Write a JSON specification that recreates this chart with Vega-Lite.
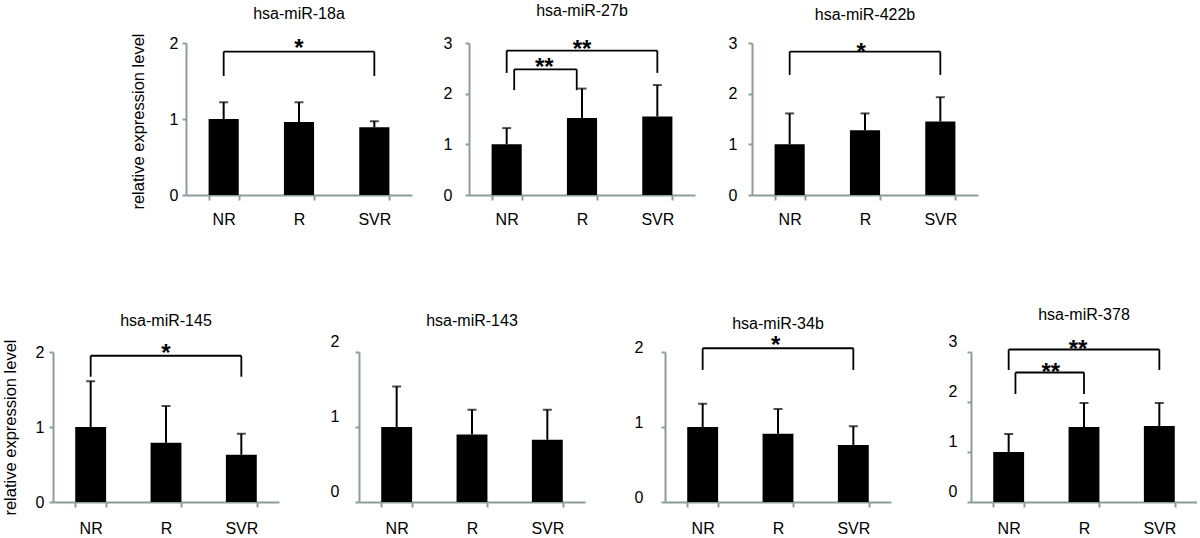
{
  "$schema": "https://vega.github.io/schema/vega-lite/v6.json",
  "background": "white",
  "padding": {"left": 2, "top": 3, "right": 0, "bottom": 0},
  "config": {
    "view": {"stroke": null},
    "font": "Liberation Sans",
    "title": {"font": "Liberation Sans", "fontSize": 16, "fontWeight": "normal", "color": "#000", "anchor": "middle", "offset": 10},
    "axis": {"domainColor": "#8c9c9c", "domainWidth": 2, "tickColor": "#8c9c9c", "tickWidth": 2, "tickSize": 4, "grid": false, "labelFont": "Liberation Sans", "labelFontSize": 16, "labelColor": "#000", "titleFont": "Liberation Sans", "titleFontSize": 16.5, "titleFontWeight": "normal", "titleColor": "#000"},
    "axisX": {"tickSize": 5, "labelAngle": 0},
    "axisY": {"format": "d"}
  },
  "datasets": {
    "bars": [
      {"gene": "hsa-miR-18a", "group": "NR", "mean": 1.0, "upper": 1.22},
      {"gene": "hsa-miR-18a", "group": "R", "mean": 0.96, "upper": 1.22},
      {"gene": "hsa-miR-18a", "group": "SVR", "mean": 0.89, "upper": 0.97},
      {"gene": "hsa-miR-27b", "group": "NR", "mean": 1.0, "upper": 1.32},
      {"gene": "hsa-miR-27b", "group": "R", "mean": 1.52, "upper": 2.1},
      {"gene": "hsa-miR-27b", "group": "SVR", "mean": 1.55, "upper": 2.17},
      {"gene": "hsa-miR-422b", "group": "NR", "mean": 1.0, "upper": 1.61},
      {"gene": "hsa-miR-422b", "group": "R", "mean": 1.28, "upper": 1.61},
      {"gene": "hsa-miR-422b", "group": "SVR", "mean": 1.45, "upper": 1.93},
      {"gene": "hsa-miR-145", "group": "NR", "mean": 1.0, "upper": 1.61},
      {"gene": "hsa-miR-145", "group": "R", "mean": 0.79, "upper": 1.28},
      {"gene": "hsa-miR-145", "group": "SVR", "mean": 0.63, "upper": 0.91},
      {"gene": "hsa-miR-143", "group": "NR", "mean": 1.0, "upper": 1.54},
      {"gene": "hsa-miR-143", "group": "R", "mean": 0.9, "upper": 1.23},
      {"gene": "hsa-miR-143", "group": "SVR", "mean": 0.83, "upper": 1.23},
      {"gene": "hsa-miR-34b", "group": "NR", "mean": 1.0, "upper": 1.31},
      {"gene": "hsa-miR-34b", "group": "R", "mean": 0.91, "upper": 1.24},
      {"gene": "hsa-miR-34b", "group": "SVR", "mean": 0.76, "upper": 1.01},
      {"gene": "hsa-miR-378", "group": "NR", "mean": 1.0, "upper": 1.36},
      {"gene": "hsa-miR-378", "group": "R", "mean": 1.5, "upper": 1.98},
      {"gene": "hsa-miR-378", "group": "SVR", "mean": 1.52, "upper": 1.98}
    ],
    "brackets": [
      {"gene": "hsa-miR-18a", "x1": 0.5, "x2": 2.5, "top": 1.886, "bottom": 1.566, "xs": 1.5, "ys": 2.0, "label": "*"},
      {"gene": "hsa-miR-27b", "x1": 0.5, "x2": 2.5, "top": 2.85, "bottom": 2.41, "xs": 1.5, "ys": 2.98, "label": "**"},
      {"gene": "hsa-miR-27b", "x1": 0.6, "x2": 1.43, "top": 2.48, "bottom": 2.07, "xs": 1.0, "ys": 2.62, "label": "**"},
      {"gene": "hsa-miR-422b", "x1": 0.5, "x2": 2.5, "top": 2.83, "bottom": 2.37, "xs": 1.45, "ys": 2.93, "label": "*"},
      {"gene": "hsa-miR-145", "x1": 0.5, "x2": 2.5, "top": 1.95, "bottom": 1.67, "xs": 1.5, "ys": 2.05, "label": "*"},
      {"gene": "hsa-miR-34b", "x1": 0.5, "x2": 2.5, "top": 2.05, "bottom": 1.76, "xs": 1.47, "ys": 2.16, "label": "*"},
      {"gene": "hsa-miR-378", "x1": 0.5, "x2": 2.5, "top": 3.05, "bottom": 2.64, "xs": 1.42, "ys": 3.17, "label": "**"},
      {"gene": "hsa-miR-378", "x1": 0.59, "x2": 1.5, "top": 2.59, "bottom": 2.16, "xs": 1.06, "ys": 2.71, "label": "**"}
    ]
  },
  "bounds": "flush",
  "spacing": 309,
  "vconcat": [
    {
      "bounds": "flush",
      "spacing": 132,
      "hconcat": [
        {"width": 1, "height": 152, "data": {"values": []}, "mark": {"type": "point", "opacity": 0}},
        {
          "bounds": "flush",
          "spacing": 57,
          "hconcat": [
            {
              "width": 226, "height": 152,
              "title": {"text": "hsa-miR-18a", "offset": 11},
              "resolve": {"scale": {"x": "independent"}},
              "layer": [
                {
                  "data": {"name": "bars"},
                  "transform": [{"filter": "datum.gene === 'hsa-miR-18a'"}],
                  "encoding": {"x": {"field": "group", "type": "nominal", "sort": ["NR", "R", "SVR"], "scale": {"paddingInner": 0.6, "paddingOuter": 0.3}, "axis": {"title": null, "tickBand": "extent", "labelPadding": 11}}},
                  "layer": [
                    {"mark": {"type": "bar", "color": "#000"}, "encoding": {"y": {"field": "mean", "type": "quantitative", "title": "relative expression level", "scale": {"domain": [0, 2], "nice": false}, "axis": {"values": [0, 1, 2], "labelPadding": 4, "titlePadding": 23, "titleY": 78}}}},
                    {"mark": {"type": "rule", "color": "#000", "strokeWidth": 2}, "encoding": {"y": {"field": "mean", "type": "quantitative", "title": "relative expression level", "scale": {"domain": [0, 2], "nice": false}}, "y2": {"field": "upper"}}},
                    {"mark": {"type": "tick", "color": "#000", "thickness": 2, "size": 9}, "encoding": {"y": {"field": "upper", "type": "quantitative", "title": "relative expression level", "scale": {"domain": [0, 2], "nice": false}}}}
                  ]
                },
                {
                  "data": {"name": "brackets"},
                  "transform": [{"filter": "datum.gene === 'hsa-miR-18a'"}],
                  "layer": [
                    {"mark": {"type": "rule", "color": "#000", "strokeWidth": 1.8}, "encoding": {"x": {"field": "x1", "type": "quantitative", "scale": {"domain": [0, 3], "nice": false, "zero": false}, "axis": null}, "x2": {"field": "x2"}, "y": {"field": "top", "type": "quantitative", "title": "relative expression level", "scale": {"domain": [0, 2], "nice": false}}}},
                    {"mark": {"type": "rule", "color": "#000", "strokeWidth": 1.8}, "encoding": {"x": {"field": "x1", "type": "quantitative", "scale": {"domain": [0, 3], "nice": false, "zero": false}, "axis": null}, "y": {"field": "top", "type": "quantitative", "title": "relative expression level", "scale": {"domain": [0, 2], "nice": false}}, "y2": {"field": "bottom"}}},
                    {"mark": {"type": "rule", "color": "#000", "strokeWidth": 1.8}, "encoding": {"x": {"field": "x2", "type": "quantitative", "scale": {"domain": [0, 3], "nice": false, "zero": false}, "axis": null}, "y": {"field": "top", "type": "quantitative", "title": "relative expression level", "scale": {"domain": [0, 2], "nice": false}}, "y2": {"field": "bottom"}}},
                    {"mark": {"type": "text", "fontSize": 24, "fontWeight": "bold", "baseline": "middle", "dy": 6, "color": "#000"}, "encoding": {"x": {"field": "xs", "type": "quantitative", "scale": {"domain": [0, 3], "nice": false, "zero": false}, "axis": null}, "y": {"field": "ys", "type": "quantitative", "title": "relative expression level", "scale": {"domain": [0, 2], "nice": false}}, "text": {"field": "label"}}}
                  ]
                }
              ]
            },
            {
              "width": 226, "height": 152,
              "title": {"text": "hsa-miR-27b", "offset": 16},
              "resolve": {"scale": {"x": "independent"}},
              "layer": [
                {
                  "data": {"name": "bars"},
                  "transform": [{"filter": "datum.gene === 'hsa-miR-27b'"}],
                  "encoding": {"x": {"field": "group", "type": "nominal", "sort": ["NR", "R", "SVR"], "scale": {"paddingInner": 0.6, "paddingOuter": 0.3}, "axis": {"title": null, "tickBand": "extent", "labelPadding": 11}}},
                  "layer": [
                    {"mark": {"type": "bar", "color": "#000"}, "encoding": {"y": {"field": "mean", "type": "quantitative", "title": null, "scale": {"domain": [0, 3], "nice": false}, "axis": {"values": [0, 1, 2, 3], "labelPadding": 13}}}},
                    {"mark": {"type": "rule", "color": "#000", "strokeWidth": 2}, "encoding": {"y": {"field": "mean", "type": "quantitative", "title": null, "scale": {"domain": [0, 3], "nice": false}}, "y2": {"field": "upper"}}},
                    {"mark": {"type": "tick", "color": "#000", "thickness": 2, "size": 9}, "encoding": {"y": {"field": "upper", "type": "quantitative", "title": null, "scale": {"domain": [0, 3], "nice": false}}}}
                  ]
                },
                {
                  "data": {"name": "brackets"},
                  "transform": [{"filter": "datum.gene === 'hsa-miR-27b'"}],
                  "layer": [
                    {"mark": {"type": "rule", "color": "#000", "strokeWidth": 1.8}, "encoding": {"x": {"field": "x1", "type": "quantitative", "scale": {"domain": [0, 3], "nice": false, "zero": false}, "axis": null}, "x2": {"field": "x2"}, "y": {"field": "top", "type": "quantitative", "title": null, "scale": {"domain": [0, 3], "nice": false}}}},
                    {"mark": {"type": "rule", "color": "#000", "strokeWidth": 1.8}, "encoding": {"x": {"field": "x1", "type": "quantitative", "scale": {"domain": [0, 3], "nice": false, "zero": false}, "axis": null}, "y": {"field": "top", "type": "quantitative", "title": null, "scale": {"domain": [0, 3], "nice": false}}, "y2": {"field": "bottom"}}},
                    {"mark": {"type": "rule", "color": "#000", "strokeWidth": 1.8}, "encoding": {"x": {"field": "x2", "type": "quantitative", "scale": {"domain": [0, 3], "nice": false, "zero": false}, "axis": null}, "y": {"field": "top", "type": "quantitative", "title": null, "scale": {"domain": [0, 3], "nice": false}}, "y2": {"field": "bottom"}}},
                    {"mark": {"type": "text", "fontSize": 24, "fontWeight": "bold", "baseline": "middle", "dy": 6, "color": "#000"}, "encoding": {"x": {"field": "xs", "type": "quantitative", "scale": {"domain": [0, 3], "nice": false, "zero": false}, "axis": null}, "y": {"field": "ys", "type": "quantitative", "title": null, "scale": {"domain": [0, 3], "nice": false}}, "text": {"field": "label"}}}
                  ]
                }
              ]
            },
            {
              "width": 226, "height": 152,
              "title": {"text": "hsa-miR-422b", "offset": 12},
              "resolve": {"scale": {"x": "independent"}},
              "layer": [
                {
                  "data": {"name": "bars"},
                  "transform": [{"filter": "datum.gene === 'hsa-miR-422b'"}],
                  "encoding": {"x": {"field": "group", "type": "nominal", "sort": ["NR", "R", "SVR"], "scale": {"paddingInner": 0.6, "paddingOuter": 0.3}, "axis": {"title": null, "tickBand": "extent", "labelPadding": 11}}},
                  "layer": [
                    {"mark": {"type": "bar", "color": "#000"}, "encoding": {"y": {"field": "mean", "type": "quantitative", "title": null, "scale": {"domain": [0, 3], "nice": false}, "axis": {"values": [0, 1, 2, 3], "labelPadding": 11}}}},
                    {"mark": {"type": "rule", "color": "#000", "strokeWidth": 2}, "encoding": {"y": {"field": "mean", "type": "quantitative", "title": null, "scale": {"domain": [0, 3], "nice": false}}, "y2": {"field": "upper"}}},
                    {"mark": {"type": "tick", "color": "#000", "thickness": 2, "size": 9}, "encoding": {"y": {"field": "upper", "type": "quantitative", "title": null, "scale": {"domain": [0, 3], "nice": false}}}}
                  ]
                },
                {
                  "data": {"name": "brackets"},
                  "transform": [{"filter": "datum.gene === 'hsa-miR-422b'"}],
                  "layer": [
                    {"mark": {"type": "rule", "color": "#000", "strokeWidth": 1.8}, "encoding": {"x": {"field": "x1", "type": "quantitative", "scale": {"domain": [0, 3], "nice": false, "zero": false}, "axis": null}, "x2": {"field": "x2"}, "y": {"field": "top", "type": "quantitative", "title": null, "scale": {"domain": [0, 3], "nice": false}}}},
                    {"mark": {"type": "rule", "color": "#000", "strokeWidth": 1.8}, "encoding": {"x": {"field": "x1", "type": "quantitative", "scale": {"domain": [0, 3], "nice": false, "zero": false}, "axis": null}, "y": {"field": "top", "type": "quantitative", "title": null, "scale": {"domain": [0, 3], "nice": false}}, "y2": {"field": "bottom"}}},
                    {"mark": {"type": "rule", "color": "#000", "strokeWidth": 1.8}, "encoding": {"x": {"field": "x2", "type": "quantitative", "scale": {"domain": [0, 3], "nice": false, "zero": false}, "axis": null}, "y": {"field": "top", "type": "quantitative", "title": null, "scale": {"domain": [0, 3], "nice": false}}, "y2": {"field": "bottom"}}},
                    {"mark": {"type": "text", "fontSize": 24, "fontWeight": "bold", "baseline": "middle", "dy": 6, "color": "#000"}, "encoding": {"x": {"field": "xs", "type": "quantitative", "scale": {"domain": [0, 3], "nice": false, "zero": false}, "axis": null}, "y": {"field": "ys", "type": "quantitative", "title": null, "scale": {"domain": [0, 3], "nice": false}}, "text": {"field": "label"}}}
                  ]
                }
              ]
            }
          ]
        }
      ]
    },
    {
      "bounds": "flush",
      "spacing": 80,
      "hconcat": [
        {
          "width": 226, "height": 150,
          "title": {"text": "hsa-miR-145", "offset": 10},
          "resolve": {"scale": {"x": "independent"}},
          "layer": [
            {
              "data": {"name": "bars"},
              "transform": [{"filter": "datum.gene === 'hsa-miR-145'"}],
              "encoding": {"x": {"field": "group", "type": "nominal", "sort": ["NR", "R", "SVR"], "scale": {"paddingInner": 0.59, "paddingOuter": 0.295}, "axis": {"title": null, "tickBand": "extent", "labelPadding": 13}}},
              "layer": [
                {"mark": {"type": "bar", "color": "#000"}, "encoding": {"y": {"field": "mean", "type": "quantitative", "title": "relative expression level", "scale": {"domain": [0, 2], "nice": false}, "axis": {"values": [0, 1, 2], "labelPadding": 5, "titlePadding": 17}}}},
                {"mark": {"type": "rule", "color": "#000", "strokeWidth": 2}, "encoding": {"y": {"field": "mean", "type": "quantitative", "title": "relative expression level", "scale": {"domain": [0, 2], "nice": false}}, "y2": {"field": "upper"}}},
                {"mark": {"type": "tick", "color": "#000", "thickness": 2, "size": 9}, "encoding": {"y": {"field": "upper", "type": "quantitative", "title": "relative expression level", "scale": {"domain": [0, 2], "nice": false}}}}
              ]
            },
            {
              "data": {"name": "brackets"},
              "transform": [{"filter": "datum.gene === 'hsa-miR-145'"}],
              "layer": [
                {"mark": {"type": "rule", "color": "#000", "strokeWidth": 1.8}, "encoding": {"x": {"field": "x1", "type": "quantitative", "scale": {"domain": [0, 3], "nice": false, "zero": false}, "axis": null}, "x2": {"field": "x2"}, "y": {"field": "top", "type": "quantitative", "title": "relative expression level", "scale": {"domain": [0, 2], "nice": false}}}},
                {"mark": {"type": "rule", "color": "#000", "strokeWidth": 1.8}, "encoding": {"x": {"field": "x1", "type": "quantitative", "scale": {"domain": [0, 3], "nice": false, "zero": false}, "axis": null}, "y": {"field": "top", "type": "quantitative", "title": "relative expression level", "scale": {"domain": [0, 2], "nice": false}}, "y2": {"field": "bottom"}}},
                {"mark": {"type": "rule", "color": "#000", "strokeWidth": 1.8}, "encoding": {"x": {"field": "x2", "type": "quantitative", "scale": {"domain": [0, 3], "nice": false, "zero": false}, "axis": null}, "y": {"field": "top", "type": "quantitative", "title": "relative expression level", "scale": {"domain": [0, 2], "nice": false}}, "y2": {"field": "bottom"}}},
                {"mark": {"type": "text", "fontSize": 24, "fontWeight": "bold", "baseline": "middle", "dy": 6, "color": "#000"}, "encoding": {"x": {"field": "xs", "type": "quantitative", "scale": {"domain": [0, 3], "nice": false, "zero": false}, "axis": null}, "y": {"field": "ys", "type": "quantitative", "title": "relative expression level", "scale": {"domain": [0, 2], "nice": false}}, "text": {"field": "label"}}}
              ]
            }
          ]
        },
        {
          "width": 226, "height": 150,
          "title": {"text": "hsa-miR-143", "offset": 4},
          "data": {"name": "bars"},
          "transform": [{"filter": "datum.gene === 'hsa-miR-143'"}],
          "encoding": {"x": {"field": "group", "type": "nominal", "sort": ["NR", "R", "SVR"], "scale": {"paddingInner": 0.59, "paddingOuter": 0.295}, "axis": {"title": null, "tickBand": "extent", "labelPadding": 13}}},
          "layer": [
            {"mark": {"type": "bar", "color": "#000"}, "encoding": {"y": {"field": "mean", "type": "quantitative", "title": null, "scale": {"domain": [0, 2], "nice": false}, "axis": {"values": [0, 1, 2], "labelPadding": 16, "labelOffset": -11}}}},
            {"mark": {"type": "rule", "color": "#000", "strokeWidth": 2}, "encoding": {"y": {"field": "mean", "type": "quantitative", "title": null, "scale": {"domain": [0, 2], "nice": false}}, "y2": {"field": "upper"}}},
            {"mark": {"type": "tick", "color": "#000", "thickness": 2, "size": 9}, "encoding": {"y": {"field": "upper", "type": "quantitative", "title": null, "scale": {"domain": [0, 2], "nice": false}}}}
          ]
        },
        {
          "width": 226, "height": 150,
          "title": {"text": "hsa-miR-34b", "offset": 2},
          "resolve": {"scale": {"x": "independent"}},
          "layer": [
            {
              "data": {"name": "bars"},
              "transform": [{"filter": "datum.gene === 'hsa-miR-34b'"}],
              "encoding": {"x": {"field": "group", "type": "nominal", "sort": ["NR", "R", "SVR"], "scale": {"paddingInner": 0.59, "paddingOuter": 0.295}, "axis": {"title": null, "tickBand": "extent", "labelPadding": 13}}},
              "layer": [
                {"mark": {"type": "bar", "color": "#000"}, "encoding": {"y": {"field": "mean", "type": "quantitative", "title": null, "scale": {"domain": [0, 2], "nice": false}, "axis": {"values": [0, 1, 2], "labelPadding": 18, "labelOffset": -5}}}},
                {"mark": {"type": "rule", "color": "#000", "strokeWidth": 2}, "encoding": {"y": {"field": "mean", "type": "quantitative", "title": null, "scale": {"domain": [0, 2], "nice": false}}, "y2": {"field": "upper"}}},
                {"mark": {"type": "tick", "color": "#000", "thickness": 2, "size": 9}, "encoding": {"y": {"field": "upper", "type": "quantitative", "title": null, "scale": {"domain": [0, 2], "nice": false}}}}
              ]
            },
            {
              "data": {"name": "brackets"},
              "transform": [{"filter": "datum.gene === 'hsa-miR-34b'"}],
              "layer": [
                {"mark": {"type": "rule", "color": "#000", "strokeWidth": 1.8}, "encoding": {"x": {"field": "x1", "type": "quantitative", "scale": {"domain": [0, 3], "nice": false, "zero": false}, "axis": null}, "x2": {"field": "x2"}, "y": {"field": "top", "type": "quantitative", "title": null, "scale": {"domain": [0, 2], "nice": false}}}},
                {"mark": {"type": "rule", "color": "#000", "strokeWidth": 1.8}, "encoding": {"x": {"field": "x1", "type": "quantitative", "scale": {"domain": [0, 3], "nice": false, "zero": false}, "axis": null}, "y": {"field": "top", "type": "quantitative", "title": null, "scale": {"domain": [0, 2], "nice": false}}, "y2": {"field": "bottom"}}},
                {"mark": {"type": "rule", "color": "#000", "strokeWidth": 1.8}, "encoding": {"x": {"field": "x2", "type": "quantitative", "scale": {"domain": [0, 3], "nice": false, "zero": false}, "axis": null}, "y": {"field": "top", "type": "quantitative", "title": null, "scale": {"domain": [0, 2], "nice": false}}, "y2": {"field": "bottom"}}},
                {"mark": {"type": "text", "fontSize": 24, "fontWeight": "bold", "baseline": "middle", "dy": 6, "color": "#000"}, "encoding": {"x": {"field": "xs", "type": "quantitative", "scale": {"domain": [0, 3], "nice": false, "zero": false}, "axis": null}, "y": {"field": "ys", "type": "quantitative", "title": null, "scale": {"domain": [0, 2], "nice": false}}, "text": {"field": "label"}}}
              ]
            }
          ]
        },
        {
          "width": 226, "height": 150,
          "title": {"text": "hsa-miR-378", "offset": 10},
          "resolve": {"scale": {"x": "independent"}},
          "layer": [
            {
              "data": {"name": "bars"},
              "transform": [{"filter": "datum.gene === 'hsa-miR-378'"}],
              "encoding": {"x": {"field": "group", "type": "nominal", "sort": ["NR", "R", "SVR"], "scale": {"paddingInner": 0.59, "paddingOuter": 0.295}, "axis": {"title": null, "tickBand": "extent", "labelPadding": 13}}},
              "layer": [
                {"mark": {"type": "bar", "color": "#000"}, "encoding": {"y": {"field": "mean", "type": "quantitative", "title": null, "scale": {"domain": [0, 3], "nice": false}, "axis": {"values": [0, 1, 2, 3], "labelPadding": 10, "labelOffset": -11}}}},
                {"mark": {"type": "rule", "color": "#000", "strokeWidth": 2}, "encoding": {"y": {"field": "mean", "type": "quantitative", "title": null, "scale": {"domain": [0, 3], "nice": false}}, "y2": {"field": "upper"}}},
                {"mark": {"type": "tick", "color": "#000", "thickness": 2, "size": 9}, "encoding": {"y": {"field": "upper", "type": "quantitative", "title": null, "scale": {"domain": [0, 3], "nice": false}}}}
              ]
            },
            {
              "data": {"name": "brackets"},
              "transform": [{"filter": "datum.gene === 'hsa-miR-378'"}],
              "layer": [
                {"mark": {"type": "rule", "color": "#000", "strokeWidth": 1.8}, "encoding": {"x": {"field": "x1", "type": "quantitative", "scale": {"domain": [0, 3], "nice": false, "zero": false}, "axis": null}, "x2": {"field": "x2"}, "y": {"field": "top", "type": "quantitative", "title": null, "scale": {"domain": [0, 3], "nice": false}}}},
                {"mark": {"type": "rule", "color": "#000", "strokeWidth": 1.8}, "encoding": {"x": {"field": "x1", "type": "quantitative", "scale": {"domain": [0, 3], "nice": false, "zero": false}, "axis": null}, "y": {"field": "top", "type": "quantitative", "title": null, "scale": {"domain": [0, 3], "nice": false}}, "y2": {"field": "bottom"}}},
                {"mark": {"type": "rule", "color": "#000", "strokeWidth": 1.8}, "encoding": {"x": {"field": "x2", "type": "quantitative", "scale": {"domain": [0, 3], "nice": false, "zero": false}, "axis": null}, "y": {"field": "top", "type": "quantitative", "title": null, "scale": {"domain": [0, 3], "nice": false}}, "y2": {"field": "bottom"}}},
                {"mark": {"type": "text", "fontSize": 24, "fontWeight": "bold", "baseline": "middle", "dy": 6, "color": "#000"}, "encoding": {"x": {"field": "xs", "type": "quantitative", "scale": {"domain": [0, 3], "nice": false, "zero": false}, "axis": null}, "y": {"field": "ys", "type": "quantitative", "title": null, "scale": {"domain": [0, 3], "nice": false}}, "text": {"field": "label"}}}
              ]
            }
          ]
        }
      ]
    }
  ]
}
